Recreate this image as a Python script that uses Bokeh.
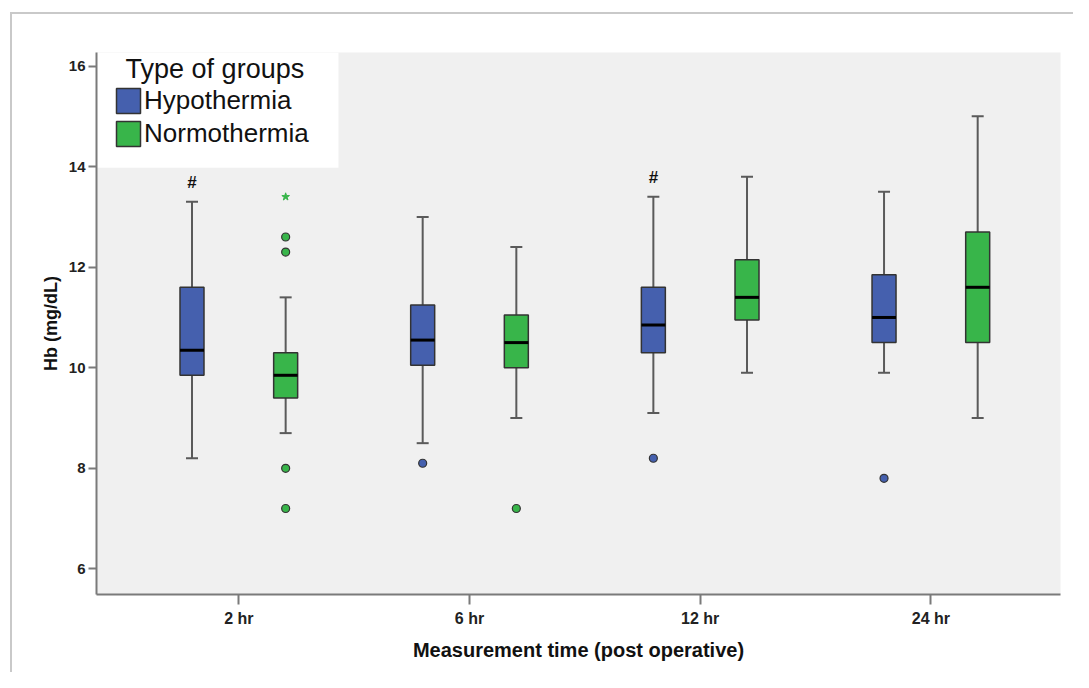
from bokeh.plotting import figure
from bokeh.models import (Range1d, FixedTicker, Legend, LegendItem, Label,
                          BoxAnnotation, ColumnDataSource)
from bokeh.embed import file_html
from bokeh.resources import INLINE

# ---------------- data (Hb, mg/dL) ----------------
groups = ["2 hr", "6 hr", "12 hr", "24 hr"]

hypo_min = [8.2, 8.5, 9.1, 9.9]
hypo_q1 = [9.85, 10.05, 10.3, 10.5]
hypo_med = [10.35, 10.55, 10.85, 11.0]
hypo_q3 = [11.6, 11.25, 11.6, 11.85]
hypo_max = [13.3, 13.0, 13.4, 13.5]
hypo_out_group = ["6 hr", "12 hr", "24 hr"]
hypo_out_val = [8.1, 8.2, 7.8]

normo_min = [8.7, 9.0, 9.9, 9.0]
normo_q1 = [9.4, 10.0, 10.95, 10.5]
normo_med = [9.85, 10.5, 11.4, 11.6]
normo_q3 = [10.3, 11.05, 12.15, 12.7]
normo_max = [11.4, 12.4, 13.8, 15.0]
normo_out_group = ["2 hr", "2 hr", "2 hr", "2 hr", "6 hr"]
normo_out_val = [12.6, 12.3, 8.0, 7.2, 7.2]
normo_ext_group = ["2 hr"]
normo_ext_val = [13.4]

sig_groups = ["2 hr", "12 hr"]  # '#' marks above Hypothermia boxes

y_ticks = [6, 8, 10, 12, 14, 16]

# ---------------- style ----------------
BLUE = "#4560ae"
GREEN = "#38b54a"
EDGE = "#333333"
WHISK = "#5a5a5a"
FONT = "Liberation Sans"
OFFSET = 0.203
BOX_W = 0.104
CAP_W = 0.052

idx = {g: i for i, g in enumerate(groups)}

p = figure(width=1073, height=672, output_backend="svg", toolbar_location=None,
           x_range=Range1d(-0.617, 3.562), y_range=Range1d(5.49, 16.27),
           min_border_left=96, min_border_right=13, min_border_top=52,
           min_border_bottom=78)
p.border_fill_color = None
p.background_fill_color = "#f0f0f0"
p.outline_line_color = None
p.xgrid.visible = False
p.ygrid.visible = False
p.styles = {
    "background": (
        "linear-gradient(#c9c9c9,#c9c9c9) 10px 12px / 2px calc(100% - 12px) no-repeat,"
        "linear-gradient(#c9c9c9,#c9c9c9) 10px 12px / calc(100% - 10px) 2px no-repeat,"
        "#ffffff"
    )
}

# white legend area (underlay)
p.add_layout(BoxAnnotation(right=0.432, bottom=13.98, fill_color="white",
                           fill_alpha=1, line_color=None, level="underlay"))


def draw(offset, lo, q1, med, q3, hi, color):
    xs = [i + offset for i in range(len(groups))]
    src = ColumnDataSource(dict(x=xs, lo=lo, q1=q1, med=med, q3=q3, hi=hi,
                                xl=[x - BOX_W / 2 for x in xs],
                                xr=[x + BOX_W / 2 for x in xs],
                                cl=[x - CAP_W / 2 for x in xs],
                                cr=[x + CAP_W / 2 for x in xs]))
    p.segment(x0="x", y0="q3", x1="x", y1="hi", source=src, line_color=WHISK, line_width=2)
    p.segment(x0="x", y0="lo", x1="x", y1="q1", source=src, line_color=WHISK, line_width=2)
    p.segment(x0="cl", y0="hi", x1="cr", y1="hi", source=src, line_color=WHISK, line_width=2)
    p.segment(x0="cl", y0="lo", x1="cr", y1="lo", source=src, line_color=WHISK, line_width=2)
    r = p.vbar(x="x", width=BOX_W, bottom="q1", top="q3", source=src,
               fill_color=color, line_color=EDGE, line_width=1.5)
    p.segment(x0="xl", y0="med", x1="xr", y1="med", source=src, line_color="black", line_width=3)
    return r


r_h = draw(-OFFSET, hypo_min, hypo_q1, hypo_med, hypo_q3, hypo_max, BLUE)
r_n = draw(OFFSET, normo_min, normo_q1, normo_med, normo_q3, normo_max, GREEN)

p.scatter([idx[g] - OFFSET for g in hypo_out_group], hypo_out_val, size=8,
          fill_color=BLUE, line_color=EDGE, line_width=1.2)
p.scatter([idx[g] + OFFSET for g in normo_out_group], normo_out_val, size=8,
          fill_color=GREEN, line_color=EDGE, line_width=1.2)
p.scatter([idx[g] + OFFSET for g in normo_ext_group], normo_ext_val, marker="star",
          size=8, fill_color=GREEN, line_color=GREEN)

sig_x = [idx[g] - OFFSET for g in sig_groups]
sig_y = [hypo_max[idx[g]] + 0.38 for g in sig_groups]
p.text(sig_x, sig_y, text=["#"] * len(sig_x), text_align="center",
       text_baseline="middle", text_font_size="17px", text_font_style="bold",
       text_color="#111111")

# axes
p.xaxis.ticker = FixedTicker(ticks=list(range(len(groups))))
p.xaxis.major_label_overrides = {i: g for i, g in enumerate(groups)}
p.yaxis.ticker = FixedTicker(ticks=y_ticks)
for ax in (p.xaxis[0], p.yaxis[0]):
    ax.axis_line_color = "#7a7a7a"
    ax.axis_line_width = 2
    ax.major_tick_line_color = "#7a7a7a"
    ax.major_tick_line_width = 2
    ax.major_tick_in = 0
    ax.minor_tick_line_color = None
    ax.major_label_text_font = FONT
    ax.major_label_text_font_style = "bold"
    ax.major_label_text_color = "#222222"
    ax.axis_label_text_font = FONT
    ax.axis_label_text_font_style = "bold"
    ax.axis_label_text_color = "#111111"
p.yaxis.major_tick_out = 8
p.yaxis.major_label_text_font_size = "15px"
p.yaxis.major_label_standoff = 3
p.yaxis.axis_label = "Hb (mg/dL)"
p.yaxis.axis_label_text_font_size = "18px"
p.yaxis.axis_label_standoff = 5
p.xaxis.major_tick_out = 10
p.xaxis.major_label_text_font_size = "16px"
p.xaxis.major_label_standoff = 5
p.xaxis.axis_label = "Measurement time (post operative)"
p.xaxis.axis_label_text_font_size = "20px"
p.xaxis.axis_label_standoff = 9

# legend
p.add_layout(Label(x=-0.491, y=15.95, text="Type of groups", text_font=FONT,
                   text_font_size="27px", text_baseline="alphabetic",
                   text_align="left", text_color="#111111"))
legend = Legend(items=[LegendItem(label="Hypothermia", renderers=[r_h]),
                       LegendItem(label="Normothermia", renderers=[r_n])],
                location=(17, 445), padding=0, margin=0, spacing=2,
                glyph_width=30, glyph_height=31, label_standoff=1,
                label_text_font=FONT, label_text_font_size="26px",
                label_text_baseline="hanging",
                label_text_color="#111111",
                background_fill_alpha=0, border_line_color=None)
p.add_layout(legend)

open("out.html", "w").write(file_html(p, INLINE))
